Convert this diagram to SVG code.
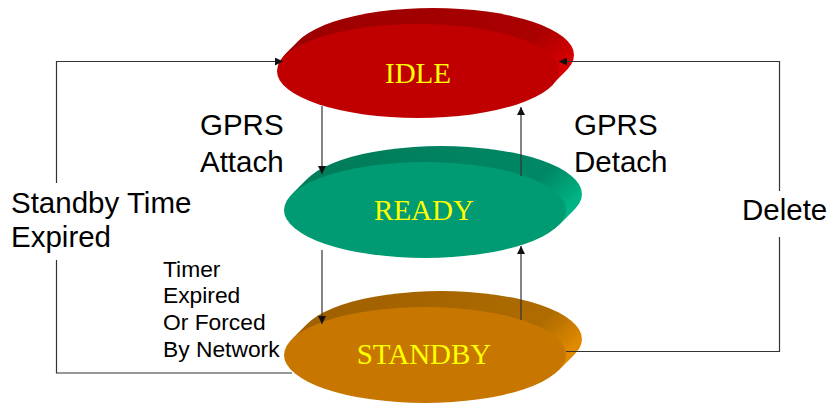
<svg xmlns="http://www.w3.org/2000/svg" width="830" height="403" viewBox="0 0 830 403">
<defs>
<style>
.lbl{font-family:"Liberation Sans",Arial,sans-serif;font-size:29.5px;fill:#000}
.sm{font-family:"Liberation Sans",Arial,sans-serif;font-size:22.8px;fill:#000}
.st{font-family:"Liberation Serif","Times New Roman",serif;font-size:29px;fill:#FFFF00;text-anchor:middle}
.c{fill:none;stroke:#333;stroke-width:1.2}
</style>
<linearGradient id="gIdle" x1="0" y1="0" x2="1" y2="0.5"><stop offset="0" stop-color="#9A0000"/><stop offset="0.8" stop-color="#AA0000"/><stop offset="1" stop-color="#D80000"/></linearGradient>
<linearGradient id="gReady" x1="0" y1="0" x2="1" y2="0.5"><stop offset="0" stop-color="#007A58"/><stop offset="0.8" stop-color="#008866"/><stop offset="1" stop-color="#00B484"/></linearGradient>
<linearGradient id="gStandby" x1="0" y1="0" x2="1" y2="0.5"><stop offset="0" stop-color="#9E5E00"/><stop offset="0.8" stop-color="#AE6C00"/><stop offset="1" stop-color="#E08A00"/></linearGradient>
<marker id="ah" viewBox="0 0 10 10" refX="10" refY="5" markerWidth="8" markerHeight="8" markerUnits="userSpaceOnUse" orient="auto"><path d="M0,0 L10,5 L0,10 z" fill="#111"/></marker>
</defs>
<rect width="830" height="403" fill="#fff"/>
<g id="idle">
<g fill="url(#gIdle)">
<ellipse cx="433" cy="55" rx="141" ry="47"/>
<ellipse cx="431" cy="57" rx="141" ry="47"/>
<ellipse cx="429" cy="59" rx="141" ry="47"/>
<ellipse cx="427" cy="61" rx="141" ry="47"/>
<ellipse cx="425" cy="63" rx="141" ry="47"/>
<ellipse cx="423" cy="65" rx="141" ry="47"/>
<ellipse cx="421" cy="67" rx="141" ry="47"/>
<ellipse cx="419" cy="69" rx="141" ry="47"/>
</g>
<ellipse cx="418" cy="71" rx="141" ry="47" fill="#C00000"/>
<text class="st" x="418" y="83">IDLE</text>
</g>
<g id="ready">
<g fill="url(#gReady)">
<ellipse cx="441" cy="194" rx="141" ry="48"/>
<ellipse cx="439" cy="196" rx="141" ry="48"/>
<ellipse cx="437" cy="198" rx="141" ry="48"/>
<ellipse cx="435" cy="200" rx="141" ry="48"/>
<ellipse cx="433" cy="202" rx="141" ry="48"/>
<ellipse cx="431" cy="204" rx="141" ry="48"/>
<ellipse cx="429" cy="206" rx="141" ry="48"/>
<ellipse cx="427" cy="208" rx="141" ry="48"/>
</g>
<ellipse cx="425" cy="210" rx="141" ry="48" fill="#009A73"/>
<text class="st" x="424" y="220">READY</text>
</g>
<g id="standby">
<g fill="url(#gStandby)">
<ellipse cx="441" cy="339" rx="141" ry="48"/>
<ellipse cx="439" cy="341" rx="141" ry="48"/>
<ellipse cx="437" cy="343" rx="141" ry="48"/>
<ellipse cx="435" cy="345" rx="141" ry="48"/>
<ellipse cx="433" cy="347" rx="141" ry="48"/>
<ellipse cx="431" cy="349" rx="141" ry="48"/>
<ellipse cx="429" cy="351" rx="141" ry="48"/>
<ellipse cx="427" cy="353" rx="141" ry="48"/>
</g>
<ellipse cx="425" cy="355" rx="141" ry="48" fill="#C77700"/>
<text class="st" x="424" y="364">STANDBY</text>
</g>
<g id="connectors">
<polyline class="c" points="292,373 56.5,373 56.5,260"/>
<polyline class="c" points="56.5,183 56.5,61.5 283,61.5" marker-end="url(#ah)"/>
<polyline class="c" points="566,351.5 779.5,351.5 779.5,237"/>
<polyline class="c" points="779.5,191 779.5,61.5 559,61.5" marker-end="url(#ah)"/>
<line class="c" x1="322" y1="106" x2="322" y2="174" marker-end="url(#ah)"/>
<line class="c" x1="322" y1="250" x2="322" y2="324" marker-end="url(#ah)"/>
<line class="c" x1="521" y1="320" x2="521" y2="246" marker-end="url(#ah)"/>
<line class="c" x1="521" y1="176" x2="521" y2="107" marker-end="url(#ah)"/>
</g>
<g id="labels">
<text class="lbl" x="200" y="135">GPRS</text>
<text class="lbl" x="200" y="172">Attach</text>
<text class="lbl" x="574" y="135">GPRS</text>
<text class="lbl" x="574" y="172">Detach</text>
<text class="lbl" x="11" y="213">Standby Time</text>
<text class="lbl" x="11" y="247">Expired</text>
<text class="lbl" x="742" y="220">Delete</text>
<text class="sm" x="163" y="277">Timer</text>
<text class="sm" x="163" y="303">Expired</text>
<text class="sm" x="163" y="330">Or Forced</text>
<text class="sm" x="163" y="357">By Network</text>
</g>
</svg>
